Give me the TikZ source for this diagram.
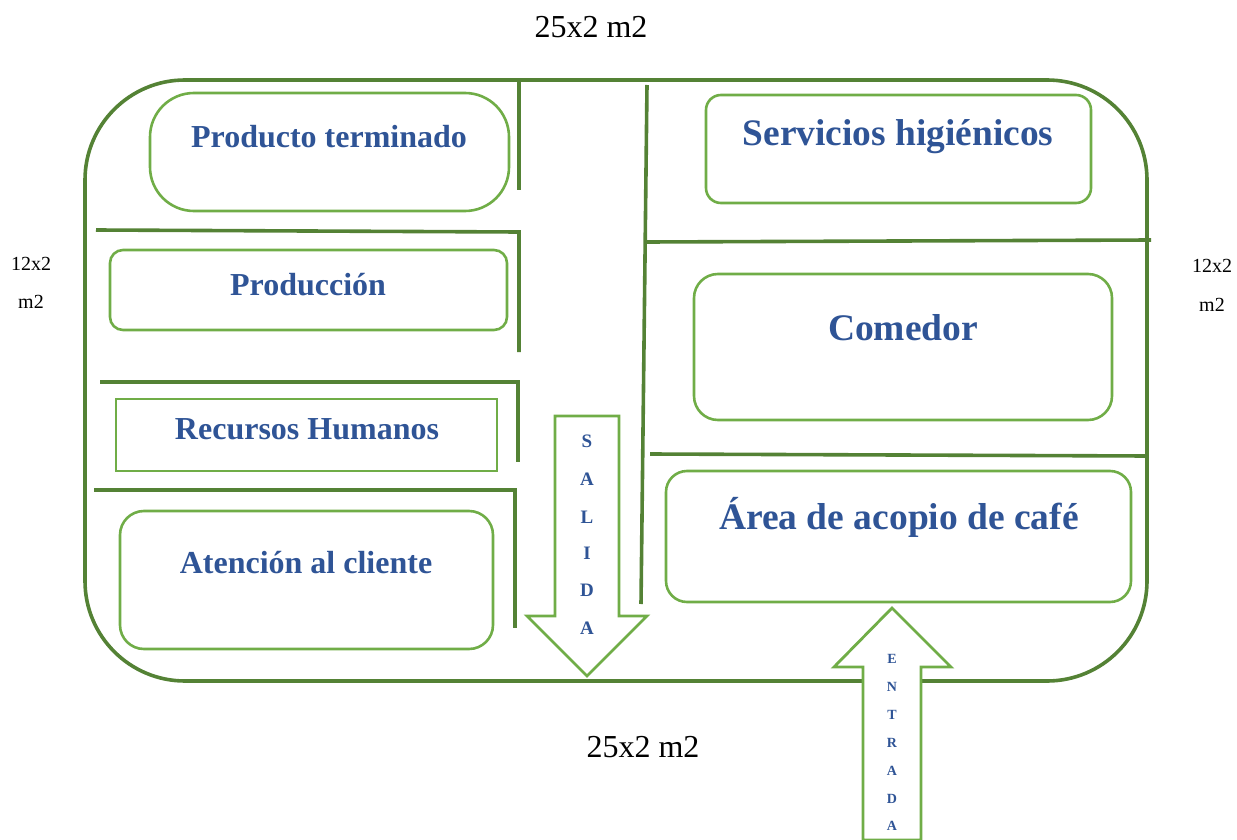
\documentclass[tikz,border=0pt]{standalone}
\usepackage{fontspec}
\setmainfont{Liberation Serif}
\definecolor{wallc}{HTML}{548235}
\definecolor{boxc}{HTML}{70AD47}
\definecolor{textc}{HTML}{2F5496}
\tikzset{
  wall/.style={draw=wallc,line width=3.6pt},
  room/.style={draw=boxc,line width=2.6pt,fill=white},
  arrowbox/.style={draw=boxc,line width=2.8pt,fill=white,line join=miter},
  lbl/.style={font=\bfseries,text=textc,inner sep=0pt,anchor=center},
  dim/.style={text=black,inner sep=0pt,anchor=center},
}
\newcommand{\fs}[1]{\fontsize{#1}{#1}\selectfont}
\begin{document}
\begin{tikzpicture}[x=1pt,y=-1pt]
\useasboundingbox (0,0) rectangle (1237,840);
% outer wall
\draw[wall,rounded corners=100pt] (85,380) -- (85,80) -- (1147,80) -- (1147,681) -- (85,681) -- cycle;
% inner walls
\draw[wall] (519,81) -- (519,190);
\draw[wall] (96,230) -- (519,232) -- (519,352);
\draw[wall] (100,382) -- (518,382) -- (518,462);
\draw[wall] (94,490) -- (515,490) -- (515,628);
\draw[wall] (647,85) -- (641,604);
\draw[wall] (647,242) -- (1151,240);
\draw[wall] (650,454) -- (1148,456);
% rooms
\node[room,rounded corners=44pt,minimum width=359pt,minimum height=118pt,anchor=north west] (prod) at (148.7,91.7) {};
\node[room,rounded corners=13pt,minimum width=397pt,minimum height=80pt,anchor=north west] (produccion) at (108.7,248.7) {};
\node[room,minimum width=381pt,minimum height=72pt,anchor=north west] (rrhh) at (114.7,397.7) {};
\node[room,rounded corners=24pt,minimum width=373pt,minimum height=138pt,anchor=north west] (cliente) at (118.7,509.7) {};
\node[room,rounded corners=15pt,minimum width=385pt,minimum height=108pt,anchor=north west] (higienicos) at (704.7,93.7) {};
\node[room,rounded corners=24pt,minimum width=418pt,minimum height=146pt,anchor=north west] (comedor) at (692.7,272.7) {};
\node[room,rounded corners=21pt,minimum width=465pt,minimum height=131pt,anchor=north west] (acopio) at (664.7,469.7) {};
% labels
\node[lbl] (t1) at (329,137) {\fs{32}Producto terminado};
\node[lbl] (t2) at (308,285) {\fs{32}Producción};
\node[lbl] (t3) at (307,429) {\fs{32}Recursos Humanos};
\node[lbl] (t4) at (306,563) {\fs{32}Atención al cliente};
\node[lbl] (t5) at (898,137) {\fs{37.4}Servicios higiénicos};
\node[lbl] (t6) at (903,328) {\fs{37.5}Comedor};
\node[lbl] (t7) at (899,517) {\fs{37.5}Área de acopio de café};
% salida arrow
\draw[arrowbox] (555,416) -- (619,416) -- (619,616) -- (647,616) -- (587,676) -- (527,616) -- (555,616) -- cycle;
\foreach \c/\y/\n in {S/441/a,A/479/b,L/517/c,I/553/d,D/590/e,A/628/f}
  \node[lbl] (sal\n) at (587,\y) {\fs{19}\c};
% entrada arrow
\draw[arrowbox] (863,840) -- (863,667) -- (834,667) -- (892,608) -- (951,667) -- (921,667) -- (921,840) -- cycle;
\foreach \c/\y/\n in {E/659/a,N/687/b,T/715/c,R/743/d,A/771/e,D/799/f,A/826/g}
  \node[lbl] (ent\n) at (892,\y) {\fs{14}\c};
% dimensions
\node[dim] (top) at (591,27) {\fs{32}25x2 m2};
\node[dim] (bot) at (643,747) {\fs{32}25x2 m2};
\node[dim] (l1) at (31,264) {\fs{20}12x2};
\node[dim] (l2) at (31,302) {\fs{20}m2};
\node[dim] (r1) at (1212,266) {\fs{20}12x2};
\node[dim] (r2) at (1212,305) {\fs{20}m2};
\end{tikzpicture}
\end{document}
